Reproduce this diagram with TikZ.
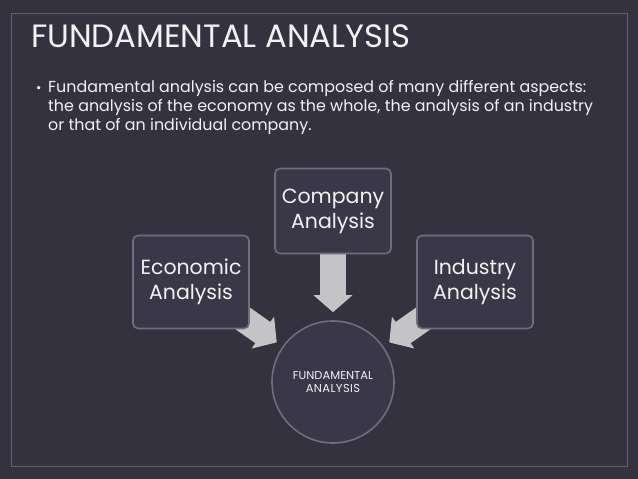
\documentclass[tikz,border=0pt]{standalone}
\usepackage{fontspec}
\setmainfont{Poppins}
\usetikzlibrary{arrows.meta,backgrounds}
\definecolor{bg}{RGB}{53,50,64}
\definecolor{framecol}{RGB}{98,96,110}
\definecolor{boxfill}{RGB}{58,55,72}
\definecolor{boxline}{RGB}{112,110,124}
\definecolor{arrowcol}{RGB}{196,196,198}
\definecolor{txt}{RGB}{242,242,242}
\tikzset{
  panel/.style={draw=boxline, line width=1.6pt, fill=boxfill, rounded corners=5pt,
    minimum width=116pt, text=txt, align=center, inner sep=0pt,
    font=\fontsize{20.5}{25}\selectfont},
  hub/.style={circle, draw=boxline, line width=1.6pt, fill=boxfill, minimum size=122pt,
    text=txt, align=center, inner sep=0pt, font=\fontsize{11.5}{13.5}\selectfont},
  blockarrow/.style={arrowcol, line width=26pt, -{Triangle[width=38pt,length=17pt]}},
  line/.style={anchor=base west, text=txt, inner sep=0pt, font=\fontsize{15.9}{18}\selectfont}
}
\begin{document}
\begin{tikzpicture}[x=1pt,y=-1pt]
\useasboundingbox (0,0) rectangle (638,479);
\begin{scope}[on background layer]
\fill[bg] (0,0) rectangle (638,479);
\draw[framecol, line width=1pt] (11,13) rectangle (627,466);
\end{scope}
\node[anchor=base west, text=txt, inner sep=0pt, font=\fontsize{32.3}{38}\selectfont] (title) at (31,47) {FUNDAMENTAL ANALYSIS};
\node[anchor=base west, text=txt, inner sep=0pt, font=\fontsize{13}{16}\selectfont] (bullet) at (36,92) {•};
\node[line] (l1) at (48,92) {Fundamental analysis can be composed of many different aspects:};
\node[line] (l2) at (48,111) {the analysis of the economy as the whole, the analysis of an industry};
\node[line] (l3) at (48,130) {or that of an individual company.};

\node[panel, minimum height=85pt] (comp) at (333,211) {Company\\Analysis};
\node[panel, minimum height=93pt] (econ) at (191,282) {Economic\\Analysis};
\node[panel, minimum height=93pt] (ind) at (475,282) {Industry\\Analysis};
\node[hub] (fa) at (333,382) {FUNDAMENTAL\\A\kern0.4pt N\kern0.4pt A\kern0.4pt L\kern0.4pt Y\kern0.4pt S\kern0.4pt I\kern0.4pt S};

\begin{scope}[on background layer]
\draw[blockarrow] (comp.south) -- ([yshift=8pt]fa.north);
\draw[blockarrow, shorten >=7pt] (econ.center) -- (fa);
\draw[blockarrow, shorten >=7pt] (ind.center) -- (fa);
\end{scope}
\end{tikzpicture}
\end{document}
